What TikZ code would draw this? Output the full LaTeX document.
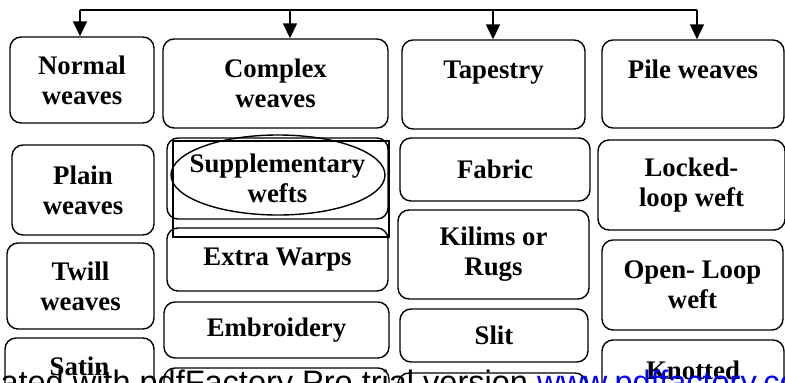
\documentclass[tikz,border=0pt]{standalone}
\usepackage{fontspec}
\setmainfont{Liberation Serif}
\newfontfamily\marksans{Liberation Sans}
\usetikzlibrary{
  shapes.geometric,
  arrows.meta
}

\tikzset{
  weave/.style 2 args={draw, line width=1.4pt, rounded corners=11pt,
    minimum width=#1pt, minimum height=#2pt, inner sep=0pt,
    align=center, font=\bfseries\fontsize{26.8}{30}\selectfont},
  feed/.style={line width=1.5pt},
}

\begin{document}
\begin{tikzpicture}[x=1pt, y=-1pt, >={Triangle[length=15pt,width=14pt]}]
\useasboundingbox (0,0) rectangle (785,383);
\clip (0,0) rectangle (785,383);

% top row
\node[weave={144}{86}] (normal) at (82,80) {Normal\\weaves};
\node[weave={225}{89}] (complex) at (275.5,83.5) {Complex\\weaves};
\node[weave={183}{89}] (tapestry) at (493.5,84.5) {Tapestry\\~};
\node[weave={182}{88}] (pile) at (693,84) {Pile weaves\\~};

% normal weaves
\node[weave={142}{90}] (plain) at (83,190) {Plain\\weaves};
\node[weave={147}{86}] (twill) at (80.5,286) {Twill\\weaves};
\node[weave={149}{86}] (satin) at (79.5,381) {Satin\\~};

% complex weaves
\node[weave={221}{81}] (supp) at (277.5,178.5) {Supplementary\\wefts};
\draw[line width=1.4pt] (173,141) rectangle (389,237);
\node[draw, ellipse, line width=1.4pt, minimum width=214pt,
  minimum height=80pt] (suppoval) at (278,175) {};
\node[weave={221}{63}] (warps) at (277.5,259.5) {Extra Warps};
\node[weave={225}{56}] (embroidery) at (276.5,330) {Embroidery};
\node[weave={225}{62}] (complexnext) at (276.5,399) {};

% tapestry
\node[weave={190}{63}] (fabric) at (495,169.5) {Fabric};
\node[weave={191}{89}] (kilims) at (493.5,254.5) {Kilims or\\Rugs};
\node[weave={188}{53}] (slit) at (494,335.5) {Slit};
\node[weave={188}{57}] (tapestrynext) at (492,401.5) {};

% pile weaves
\node[weave={187}{90}] (locked) at (691.5,185) {Locked-\\loop weft};
\node[weave={181}{90}] (open) at (692.5,285) {Open- Loop\\weft};
\node[weave={182}{90}] (knotted) at (693,385) {Knotted\\~};

% feed line
\coordinate (bar) at (0,10);
\draw[feed] ([xshift=-2pt]normal.north |- bar) -- ([xshift=4pt]pile.north |- bar);
\draw[feed,->] ([xshift=-2pt]normal.north |- bar) -- ([xshift=-2pt]normal.north);
\draw[feed,->] ([xshift=14.5pt]complex.north |- bar) -- ([xshift=14.5pt]complex.north);
\draw[feed,->] ([xshift=-0.5pt]tapestry.north |- bar) -- ([xshift=-0.5pt]tapestry.north);
\draw[feed,->] ([xshift=4pt]pile.north |- bar) -- ([xshift=4pt]pile.north);

\node[anchor=base west, inner sep=0pt, font=\marksans\fontsize{32.5}{36}\selectfont]
  (mark) at (-52,393) {Created with pdfFactory Pro trial version \textcolor{blue}{www.pdffactory.com}};
\end{tikzpicture}
\end{document}
